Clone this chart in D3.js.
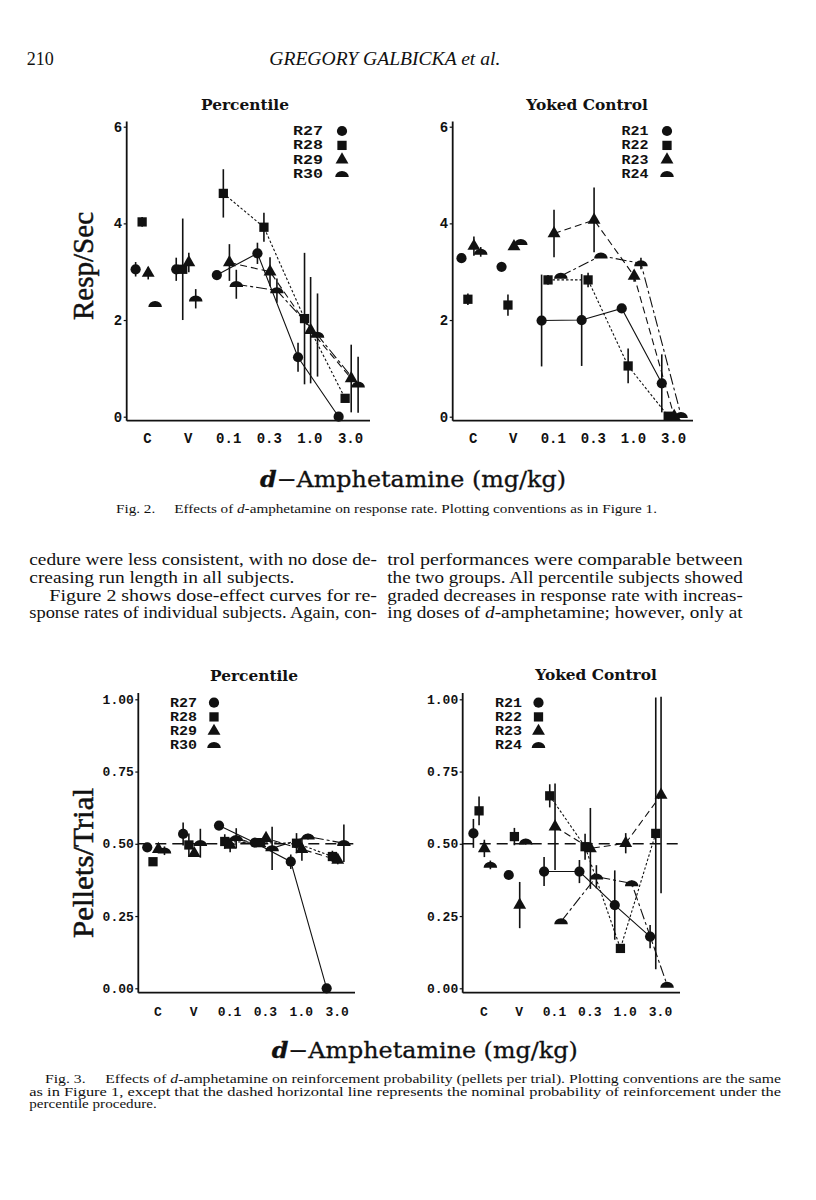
<!DOCTYPE html>
<html><head><meta charset="utf-8">
<script src="https://cdn.jsdelivr.net/npm/d3@7"></script>
<style>body{margin:0;background:#fff} svg{display:block}</style>
</head><body>
<svg id="page" width="816" height="1200"></svg>
<script>
// ---------- DATA ----------
const doseLabels = ["C", "V", "0.1", "0.3", "1.0", "3.0"];
const percentileSubjects = ["R27", "R28", "R29", "R30"];
const yokedSubjects = ["R21", "R22", "R23", "R24"];
const rateTicks = [0, 2, 4, 6];
const rateTickLabels = ["0", "2", "4", "6"];
const probTicks = [0, 0.25, 0.5, 0.75, 1];
const probTickLabels = ["0.00", "0.25", "0.50", "0.75", "1.00"];
const nominalProbability = 0.5;

// Fig. 2 — response rate (resp/sec), Percentile group
const rateR27 = [3.05, 3.05, 2.93, 3.38, 1.23, 0.00];
const rateR27Err = [0.15, 0.24, 0.00, 0.22, 0.30, 0.00];
const rateR28 = [4.03, 3.05, 4.62, 3.92, 2.03, 0.38];
const rateR28Err = [0.10, 1.05, 0.50, 0.30, 1.36, 0.05];
const rateR29 = [2.97, 3.19, 3.19, 3.00, 1.79, 0.79];
const rateR29Err = [0.13, 0.20, 0.38, 0.30, 1.10, 0.70];
const rateR30 = [2.33, 2.44, 2.74, 2.61, 1.69, 0.66];
const rateR30Err = [0.05, 0.20, 0.30, 0.25, 0.86, 0.58];
// Fig. 2 — response rate, Yoked Control group
const rateR21 = [3.28, 3.10, 1.99, 2.00, 2.24, 0.69];
const rateR21Err = [0.10, 0.00, 0.95, 0.95, 0.05, 0.60];
const rateR22 = [2.43, 2.31, 2.83, 2.83, 1.05, 0.01];
const rateR22Err = [0.12, 0.22, 0.10, 0.15, 0.36, 0.00];
const rateR23 = [3.53, 3.52, 3.79, 4.07, 2.91, 0.01];
const rateR23Err = [0.20, 0.05, 0.49, 0.67, 0.12, 0.00];
const rateR24 = [3.41, 3.61, 2.91, 3.33, 3.17, 0.03];
const rateR24Err = [0.10, 0.03, 0.03, 0.03, 0.12, 0.00];

// Fig. 3 — pellets per trial, Percentile group
const probR27 = [0.488, 0.534, 0.563, 0.504, 0.438, 0.000];
const probR27Err = [0.015, 0.040, 0.000, 0.010, 0.025, 0.000];
const probR28 = [0.438, 0.496, 0.508, 0.504, 0.502, 0.456];
const probR28Err = [0.010, 0.040, 0.025, 0.015, 0.035, 0.020];
const probR29 = [0.481, 0.467, 0.496, 0.519, 0.481, 0.444];
const probR29Err = [0.010, 0.010, 0.025, 0.010, 0.040, 0.015];
const probR30 = [0.476, 0.502, 0.519, 0.484, 0.525, 0.502];
const probR30Err = [0.015, 0.050, 0.035, 0.075, 0.010, 0.065];
// Fig. 3 — pellets per trial, Yoked Control group
const probR21 = [0.536, 0.392, 0.404, 0.404, 0.288, 0.179];
const probR21Err = [0.050, 0.000, 0.050, 0.040, 0.120, 0.040];
const probR22 = [0.614, 0.525, 0.666, 0.490, 0.138, 0.536];
const probR22Err = [0.050, 0.030, 0.040, 0.045, 0.000, 0.470];
const probR23 = [0.484, 0.288, 0.559, 0.484, 0.502, 0.669];
const probR23Err = [0.030, 0.080, 0.150, 0.140, 0.035, 0.340];
const probR24 = [0.427, 0.507, 0.231, 0.386, 0.363, 0.012];
const probR24Err = [0.015, 0.010, 0.005, 0.040, 0.010, 0.000];

// ---------- DRAWING ----------
const svg = d3.select("#page");
const INK = "#111";
const MONO = "'Liberation Mono', 'DejaVu Sans Mono', monospace";
const SERIF = "'Liberation Serif', 'DejaVu Serif', serif";
const WIDE_SERIF = "'DejaVu Serif', 'Liberation Serif', serif";

const subjectOffset = [-0.28, -0.12, 0.03, 0.2];
const dashes = [null, "2.5,2", "7,4", "11,3,3,3"];
const domePath = "M-6.8,2.8 A6.8,6 0 0 1 6.8,2.8 Z";
function symbolPath(k) {
  if (k === 0) return d3.symbol(d3.symbolCircle, 82)();
  if (k === 1) return d3.symbol(d3.symbolSquare, 86)();
  if (k === 2) return d3.symbol(d3.symbolTriangle, 72)();
  return domePath;
}

function drawPanel(cfg) {
  const g = svg.append("g");
  const x = d3.scaleLinear().domain([0, doseLabels.length - 1]).range([cfg.xC, cfg.x3]);
  const y = d3.scaleLinear().domain(cfg.yDomain).range(cfg.yRange);

  // title
  g.append("text").attr("x", cfg.titleX).attr("y", cfg.titleY)
    .attr("text-anchor", "middle").attr("font-family", WIDE_SERIF)
    .attr("font-weight", "bold").attr("font-size", 15.4).attr("fill", INK)
    .text(cfg.title);

  // axes lines
  g.append("line").attr("x1", cfg.axisL).attr("x2", cfg.axisL)
    .attr("y1", cfg.axisTop).attr("y2", cfg.baseY)
    .attr("stroke", INK).attr("stroke-width", 1.8);
  g.append("line").attr("x1", cfg.axisL).attr("x2", cfg.axisR)
    .attr("y1", cfg.baseY).attr("y2", cfg.baseY)
    .attr("stroke", INK).attr("stroke-width", 1.8);

  // y axis ticks via d3 axis
  const yAxis = d3.axisLeft(y).tickValues(cfg.yTicks)
    .tickFormat((d, i) => cfg.yTickLabels[i]).tickSize(3).tickPadding(1.5);
  const ya = g.append("g").attr("transform", `translate(${cfg.axisL},0)`).call(yAxis);
  ya.select(".domain").remove();
  ya.selectAll("line").attr("stroke", INK).attr("stroke-width", 1.2);
  ya.selectAll("text").attr("font-family", MONO).attr("font-weight", "bold")
    .attr("font-size", cfg.yFont).attr("fill", INK);

  // x labels via d3 axis
  const xAxis = d3.axisBottom(x).tickValues(d3.range(doseLabels.length))
    .tickFormat(i => doseLabels[i]).tickSize(0).tickPadding(0);
  const xa = g.append("g").attr("transform", `translate(0,${cfg.baseY})`).call(xAxis);
  xa.select(".domain").remove();
  xa.selectAll("text").attr("font-family", MONO).attr("font-weight", "bold")
    .attr("font-size", cfg.xFont).attr("fill", INK)
    .attr("dy", null).attr("y", cfg.xLabelDy);

  // nominal dashed line
  if (cfg.nominal != null) {
    g.append("line").attr("x1", cfg.axisL).attr("x2", cfg.axisR)
      .attr("y1", y(cfg.nominal)).attr("y2", y(cfg.nominal))
      .attr("stroke", INK).attr("stroke-width", 1.5).attr("stroke-dasharray", "11,6");
  }

  const series = cfg.series.map((s, k) => ({
    k,
    pts: s.vals.map((v, i) => ({ i, v, e: s.errs[i], xp: x(i + subjectOffset[k]) }))
  }));

  // connecting lines for drug doses
  const line = d3.line().x(d => d.xp).y(d => y(d.v));
  series.forEach(s => {
    g.append("path").datum(s.pts.slice(2))
      .attr("d", line).attr("fill", "none").attr("stroke", INK)
      .attr("stroke-width", 1.1)
      .attr("stroke-dasharray", dashes[s.k]);
  });

  // error bars
  series.forEach(s => {
    g.selectAll(null).data(s.pts.filter(p => p.e > 0)).join("line")
      .attr("x1", d => d.xp).attr("x2", d => d.xp)
      .attr("y1", d => y(d.v - d.e)).attr("y2", d => y(d.v + d.e))
      .attr("stroke", INK).attr("stroke-width", 1.6);
  });

  // symbols
  series.forEach(s => {
    g.selectAll(null).data(s.pts).join("path")
      .attr("d", symbolPath(s.k))
      .attr("transform", d => `translate(${d.xp},${y(d.v)})`)
      .attr("fill", INK);
  });

  // legend
  cfg.subjects.forEach((name, k) => {
    const ly = cfg.legY + k * cfg.legStep;
    g.append("text").attr("x", cfg.legX).attr("y", ly)
      .attr("font-family", MONO).attr("font-weight", "bold")
      .attr("font-size", cfg.legFont).attr("fill", INK)
      .attr("textLength", cfg.legLen).attr("lengthAdjust", "spacingAndGlyphs").text(name);
    g.append("path").attr("d", symbolPath(k))
      .attr("transform", `translate(${cfg.legSymX},${ly - 4})`).attr("fill", INK);
  });
}

const rateDomain = [0, 6], rateRange = [416.7, 126.7];
const probDomain = [0, 1], probRange = [988.3, 699.3];

drawPanel({
  title: "Percentile", titleX: 245, titleY: 110,
  xC: 147, x3: 350, axisL: 126.7, axisR: 370, axisTop: 121.5, baseY: 420.7,
  yDomain: rateDomain, yRange: rateRange, yTicks: rateTicks, yTickLabels: rateTickLabels,
  yFont: 14, xFont: 14, xLabelDy: 22,
  subjects: percentileSubjects, legX: 293, legY: 135, legStep: 14.4, legFont: 12.5, legLen: 30, legSymX: 342,
  series: [
    { vals: rateR27, errs: rateR27Err }, { vals: rateR28, errs: rateR28Err },
    { vals: rateR29, errs: rateR29Err }, { vals: rateR30, errs: rateR30Err }]
});
drawPanel({
  title: "Yoked Control", titleX: 587, titleY: 110,
  xC: 472.7, x3: 673, axisL: 452.7, axisR: 693, axisTop: 121.5, baseY: 420.7,
  yDomain: rateDomain, yRange: rateRange, yTicks: rateTicks, yTickLabels: rateTickLabels,
  yFont: 14, xFont: 14, xLabelDy: 22,
  subjects: yokedSubjects, legX: 621.5, legY: 135, legStep: 14.4, legFont: 12.5, legLen: 27, legSymX: 667,
  series: [
    { vals: rateR21, errs: rateR21Err }, { vals: rateR22, errs: rateR22Err },
    { vals: rateR23, errs: rateR23Err }, { vals: rateR24, errs: rateR24Err }]
});
drawPanel({
  title: "Percentile", titleX: 254, titleY: 680.5,
  xC: 157.3, x3: 336.7, axisL: 138.3, axisR: 355, axisTop: 693, baseY: 992.7,
  yDomain: probDomain, yRange: probRange, yTicks: probTicks, yTickLabels: probTickLabels,
  yFont: 13, xFont: 13, xLabelDy: 23, nominal: nominalProbability,
  subjects: percentileSubjects, legX: 170, legY: 706.7, legStep: 14.2, legFont: 12.5, legLen: 27, legSymX: 214,
  series: [
    { vals: probR27, errs: probR27Err }, { vals: probR28, errs: probR28Err },
    { vals: probR29, errs: probR29Err }, { vals: probR30, errs: probR30Err }]
});
drawPanel({
  title: "Yoked Control", titleX: 596, titleY: 679.5,
  xC: 483.3, x3: 660, axisL: 462.7, axisR: 680, axisTop: 693, baseY: 992.7,
  yDomain: probDomain, yRange: probRange, yTicks: probTicks, yTickLabels: probTickLabels,
  yFont: 13, xFont: 13, xLabelDy: 23, nominal: nominalProbability,
  subjects: yokedSubjects, legX: 495, legY: 706.7, legStep: 14.2, legFont: 12.5, legLen: 27, legSymX: 538.5,
  series: [
    { vals: probR21, errs: probR21Err }, { vals: probR22, errs: probR22Err },
    { vals: probR23, errs: probR23Err }, { vals: probR24, errs: probR24Err }]
});

// ---------- Y AXIS TITLES ----------
function yTitle(txt, cx, cy, len) {
  svg.append("text").attr("transform", `translate(${cx},${cy}) rotate(-90)`)
    .attr("text-anchor", "middle").attr("font-family", SERIF)
    .attr("font-size", 29).attr("fill", INK)
    .attr("stroke", INK).attr("stroke-width", 0.5)
    .attr("textLength", len).attr("lengthAdjust", "spacingAndGlyphs").text(txt);
}
yTitle("Resp/Sec", 93, 266, 108);
yTitle("Pellets/Trial", 93, 863, 150);

// ---------- X AXIS TITLES ----------
function xTitle(x0, yb) {
  const t = svg.append("text").attr("x", x0).attr("y", yb)
    .attr("font-family", WIDE_SERIF).attr("font-size", 22).attr("fill", INK)
    .attr("stroke", INK).attr("stroke-width", 0.3)
    .attr("textLength", 306).attr("lengthAdjust", "spacingAndGlyphs");
  t.append("tspan").attr("font-style", "italic").attr("font-weight", "bold").text("d");
  t.append("tspan").text("\u2212Amphetamine (mg/kg)");
}
xTitle(260, 487);
xTitle(271.7, 1058);

// ---------- PAGE TEXT ----------
function txt(x, y, size, parts, opts = {}) {
  const t = svg.append("text").attr("x", x).attr("y", y)
    .attr("font-family", SERIF).attr("font-size", size).attr("fill", INK);
  if (opts.len) t.attr("textLength", opts.len).attr("lengthAdjust", opts.adj || "spacing");
  if (opts.italic) t.attr("font-style", "italic");
  parts.forEach(p => {
    if (typeof p === "string") t.append("tspan").text(p);
    else t.append("tspan").attr("font-style", "italic").text(p.i);
  });
  return t;
}
txt(26.7, 65, 18, ["210"], { len: 27, adj: "spacingAndGlyphs" });
txt(269.3, 65, 18, ["GREGORY GALBICKA et al."], { italic: true, len: 231, adj: "spacingAndGlyphs" });

txt(116, 513.3, 13, ["Fig. 2.\u2003 Effects of ", { i: "d" }, "-amphetamine on response rate. Plotting conventions as in Figure 1."],
  { len: 541, adj: "spacingAndGlyphs" });

const bodyLeft = [
  [29.3, 565, ["cedure were less consistent, with no dose de-"], 347.7],
  [29.3, 582.7, ["creasing run length in all subjects."], 265],
  [49.3, 600.7, ["Figure 2 shows dose-effect curves for re-"], 327.7],
  [29.3, 618.3, ["sponse rates of individual subjects. Again, con-"], 347.7]
];
const bodyRight = [
  [387.3, 565, ["trol performances were comparable between"], 355.4],
  [387.3, 582.7, ["the two groups. All percentile subjects showed"], 355.4],
  [387.3, 600.7, ["graded decreases in response rate with increas-"], 355.4],
  [387.3, 618.3, ["ing doses of ", { i: "d" }, "-amphetamine; however, only at"], 355.4]
];
bodyLeft.concat(bodyRight).forEach(([x, y, parts, len]) =>
  txt(x, y, 16, parts, { len, adj: "spacingAndGlyphs" }));

txt(45, 1083, 11.5, ["Fig. 3.\u2003 Effects of ", { i: "d" }, "-amphetamine on reinforcement probability (pellets per trial). Plotting conventions are the same"],
  { len: 736, adj: "spacingAndGlyphs" });
txt(29.3, 1095.5, 11.5, ["as in Figure 1, except that the dashed horizontal line represents the nominal probability of reinforcement under the"],
  { len: 751.7, adj: "spacingAndGlyphs" });
txt(29.3, 1108, 11.5, ["percentile procedure."], { len: 127.4, adj: "spacingAndGlyphs" });
</script>
</body></html>
